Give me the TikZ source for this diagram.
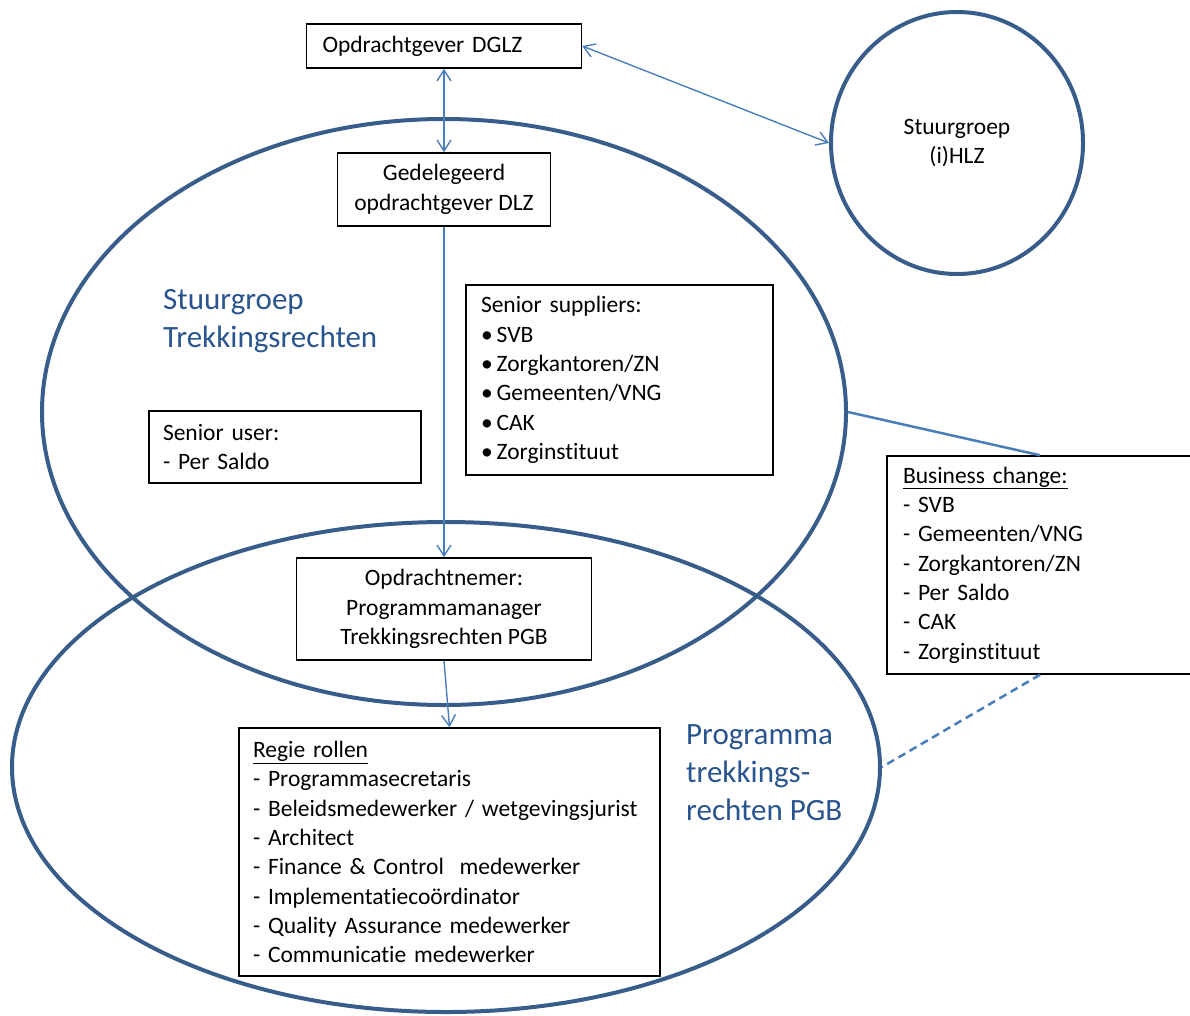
\documentclass[tikz,border=0pt]{standalone}
\usepackage{fontspec}
\setmainfont{Carlito}[Ligatures=NoCommon]
\usetikzlibrary{shapes.geometric,arrows.meta}
\definecolor{ringblue}{RGB}{56,93,138}
\definecolor{lineblue}{RGB}{74,126,187}
\definecolor{titleblue}{RGB}{41,84,143}
\begin{document}
\begin{tikzpicture}[x=1pt,y=-1pt,
  every node/.style={font=\fontsize{23.5}{29.3}\selectfont},
  box/.style={draw,line width=1.5pt,fill=white,inner sep=0pt},
  ring/.style={draw=ringblue,ellipse,line width=4pt,inner sep=0pt},
  link/.style={draw=lineblue,line width=1.4pt},
  title/.style={text=titleblue,font=\fontsize{31}{38}\selectfont,align=left,anchor=west,inner sep=0pt},
  >={Straight Barb[length=11pt,width=14pt]}]
\useasboundingbox (0,0) rectangle (1190,1015);
\clip (0,0) rectangle (1190,1015);
% groups
\node[ring,minimum width=804pt,minimum height=586pt] (E1) at (444,412) {};
\node[ring,minimum width=868pt,minimum height=490pt] (E2) at (446,767) {};
\node[ring,minimum width=252pt,minimum height=262pt,align=center] (HLZ) at (957,143) {Stuurgroep\\(i)HLZ};
\node[title] (T1) at (163,321) {Stuurgroep\\Trekkingsrechten};
\node[title] (T2) at (686,773) {Programma\\trekkings-\\rechten PGB};
% boxes
\node[box,minimum height=44pt,text width=243pt,inner xsep=16pt,align=left] (DGLZ) at (444,46) {Opdrachtgever DGLZ};
\node[box,minimum width=213pt,minimum height=73pt,align=center] (DLZ) at (444,189.5) {Gedelegeerd\\opdrachtgever DLZ};
\node[box,minimum height=190pt,text width=277pt,inner xsep=15pt,align=left] (SS) at (619.5,380) {Senior suppliers:\\\textbullet\,SVB\\\textbullet\,Zorgkantoren/ZN\\\textbullet\,Gemeenten/VNG\\\textbullet\,CAK\\\textbullet\,Zorginstituut};
\node[box,minimum height=72pt,text width=244pt,inner xsep=14pt,align=left] (SU) at (285,447) {Senior user:\\- Per Saldo};
\node[box,minimum width=295pt,minimum height=102pt,align=center] (PM) at (444,609) {Opdrachtnemer:\\Programmamanager\\Trekkingsrechten PGB};
\node[box,minimum height=248pt,text width=393pt,inner xsep=14pt,align=left] (RR) at (449.5,852) {\underline{Regie rollen}\\- Programmasecretaris\\- Beleidsmedewerker / wetgevingsjurist\\- Architect\\- Finance \& Control\ \ medewerker\\- Implementatieco\"ordinator\\- Quality Assurance medewerker\\- Communicatie medewerker};
\node[box,minimum height=218pt,text width=274pt,inner xsep=16pt,align=left] (BC) at (1040,565) {\underline{Business change:}\\- SVB\\- Gemeenten/VNG\\- Zorgkantoren/ZN\\- Per Saldo\\- CAK\\- Zorginstituut};
% links
\draw[link,<->] (DGLZ.south) -- (DLZ.north);
\draw[link,<->] (DGLZ.east) -- (HLZ.west);
\draw[link,->] (DLZ.south) -- (PM.north);
\draw[link,->] (PM.south) -- (RR.north);
\draw[link,line width=2.5pt] (E1.east) -- (BC.north);
\draw[link,line width=2.5pt,dash pattern=on 8pt off 5pt] (BC.south) -- (E2.east);
\end{tikzpicture}
\end{document}
